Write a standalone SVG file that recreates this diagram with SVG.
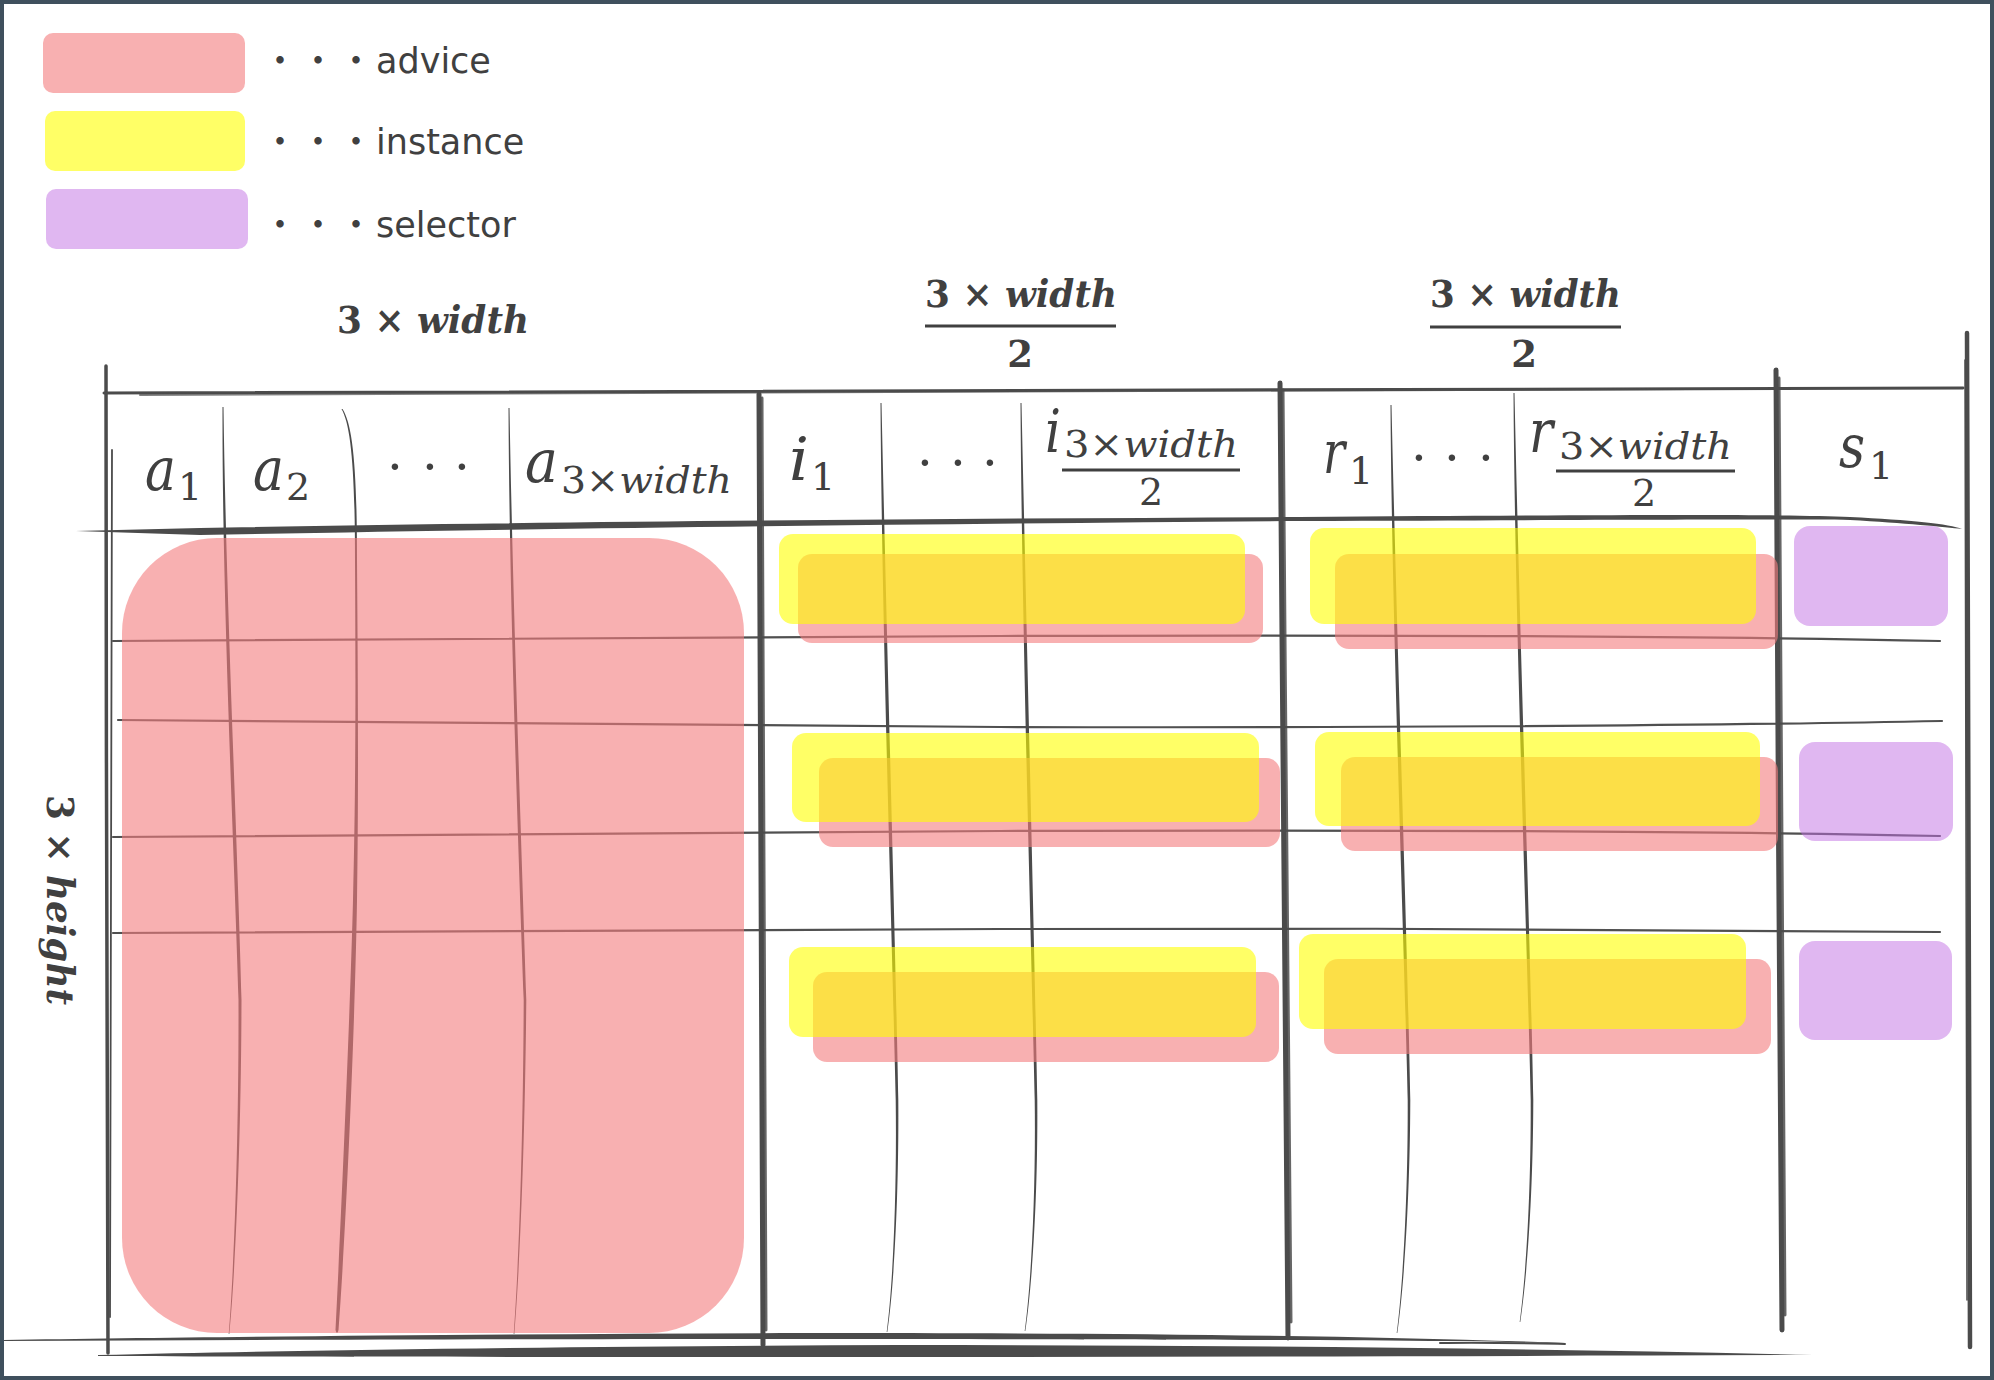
<svg xmlns="http://www.w3.org/2000/svg" width="1994" height="1380" viewBox="0 0 1994 1380">
<defs>
<style>
.ln{fill:none;stroke:#4b4b4b;stroke-linecap:round;stroke-linejoin:round}
.br{fill:#4b4b4b;stroke:none}
.rw{fill:none;stroke:#505050;stroke-width:2.2;stroke-linecap:round}
.pk{fill:#F47C7D;fill-opacity:0.6}
.yl{fill:#FFFF00;fill-opacity:0.6}
.pu{fill:#C16FE3;fill-opacity:0.5}
.lg{font-family:"DejaVu Sans","Noto Sans CJK JP",sans-serif;font-size:35px;fill:#404040}
.jd{font-family:"Noto Sans CJK JP",sans-serif;font-size:35px;fill:#404040}
.mv{font-family:"DejaVu Serif",serif;font-style:italic;font-size:60px;fill:#404040}
.sb{font-family:"DejaVu Serif",serif;font-size:38px;fill:#404040}
.dt{font-family:"DejaVu Serif",serif;font-size:50px;fill:#404040;text-anchor:middle}
.hd{font-family:"DejaVu Serif",serif;font-weight:bold;font-size:38px;fill:#404040}
.dn{font-family:"DejaVu Serif",serif;font-weight:bold;font-size:37px;fill:#404040;text-anchor:middle}
.it{font-style:italic}
.fl{stroke:#404040;stroke-width:3}
</style>
</defs>
<rect x="0" y="0" width="1994" height="1380" fill="#ffffff"/>
<rect x="2" y="2" width="1990" height="1376" fill="none" stroke="#3f505d" stroke-width="4"/>

<!-- connectors / grid -->
<g id="grid">
  <!-- outer left -->
  <path class="ln" stroke-width="3.5" d="M106,366 C106,700 107,1000 108,1353"/>
  <path class="ln" stroke-width="1.8" d="M112,450 C112,800 111,1100 110,1317"/>
  <!-- top line -->
  <path class="ln" stroke-width="3" d="M104,393 C500,391 1200,390 1963,388"/>
  <path class="ln" stroke-width="2" stroke-opacity="0.7" d="M140,395 C600,392 1100,391 1690,389"/>
  <!-- header bottom line -->
  <path class="br" d="M76,531 L200,528 C500,522 900,519 1300,517 C1600,515 1780,514 1850,517 C1910,520 1950,524 1962,529 C1945,527 1905,523 1850,520 C1780,519 1600,520 1300,521 C900,524 500,529 200,535 Z"/>
  <!-- row lines -->
  <path class="rw" d="M113,641 C400,640 700,637 1000,636 C1300,635 1700,636 1940,641"/>
  <path class="rw" d="M118,720 C400,722 700,725 1000,727 C1300,728 1700,726 1942,721"/>
  <path class="rw" d="M113,837 C400,836 700,833 1000,831 C1300,830 1700,831 1940,836"/>
  <path class="rw" d="M113,933 C400,932 700,930 1000,929 C1300,928 1700,929 1940,932"/>
  <!-- advice columns (tapered strokes) -->
  <path class="br" d="M222.5,407 C222,600 234.2,850 238.5,1000 C238.9,1150 233.3,1280 228.7,1334 L229.3,1334 C234.7,1280 241.1,1150 241.5,1000 C237.8,850 226,600 223.5,407 Z"/>
  <path class="br" d="M341.5,409 C351,425 355,470 355,560 C355.9,700 355.5,800 353,900 C350.5,1000 342,1200 335.5,1330 Q337,1336 338.5,1330 C348,1200 355.5,1000 357,900 C358.5,800 358.1,700 357,560 C357,470 353,425 342.5,409 Z"/>
  <path class="br" d="M508.5,408 C509.3,600 518.4,850 523.7,1000 C523.1,1150 518.4,1270 513.7,1334 L514.3,1334 C519.6,1270 524.9,1150 526.3,1000 C521.6,850 512.7,600 509.5,408 Z"/>
  <!-- separator a|i -->
  <path class="ln" stroke-width="5" d="M759,394 C760,600 762,900 763,1345"/>
  <path class="ln" stroke-width="3" stroke-opacity="0.85" d="M762,398 C763,700 765,1000 766,1330"/>
  <!-- instance columns -->
  <path class="br" d="M880.5,403 C881.8,620 892.4,950 895.7,1100 C897,1200 892.4,1290 886.7,1332 L887.3,1332 C893.6,1290 899,1200 898.3,1100 C895.6,950 886.2,620 881.5,403 Z"/>
  <path class="br" d="M1020.5,403 C1021.8,620 1031.4,950 1034.7,1100 C1036,1200 1030.4,1290 1024.7,1331 L1025.3,1331 C1031.6,1290 1038,1200 1037.3,1100 C1034.6,950 1026.2,620 1021.5,403 Z"/>
  <!-- separator i|r -->
  <path class="ln" stroke-width="5" d="M1280,383 C1282,700 1286,1000 1288,1338"/>
  <path class="ln" stroke-width="3" stroke-opacity="0.85" d="M1283,390 C1285,700 1289,1000 1291,1322"/>
  <!-- r columns -->
  <path class="br" d="M1390.5,405 C1391.8,620 1404.4,950 1407.7,1100 C1408,1200 1402.4,1290 1396.7,1333 L1397.3,1333 C1403.6,1290 1410,1200 1410.3,1100 C1407.6,950 1396.2,620 1391.5,405 Z"/>
  <path class="br" d="M1513.5,393 C1514.8,620 1527.4,950 1530.7,1100 C1531,1200 1525.4,1280 1519.7,1322 L1520.3,1322 C1526.6,1280 1533,1200 1533.3,1100 C1530.6,950 1519.2,620 1514.5,393 Z"/>
  <!-- separator r|s -->
  <path class="ln" stroke-width="5" d="M1776,370 C1777,700 1780,1000 1782,1330"/>
  <path class="ln" stroke-width="3" stroke-opacity="0.85" d="M1779,378 C1781,700 1783,1000 1785,1315"/>
  <!-- right edge -->
  <path class="ln" stroke-width="4.5" d="M1967,333 C1968,700 1969,1000 1970,1347"/>
  <path class="ln" stroke-width="1.5" d="M1965,360 L1967,1300"/>
  <!-- bottom brush strokes -->
  <path class="br" d="M4,1340 C200,1337 500,1334 800,1333 C1100,1333 1350,1335 1566,1343 C1540,1344 1500,1341 1450,1341 C1300,1340 1100,1339 800,1339 C500,1339 250,1340 4,1341 Z"/>
  <path class="ln" stroke-width="2" d="M1565,1344 C1520,1343 1480,1342 1440,1343"/>
  <path class="br" d="M98,1355 C300,1350 600,1346 900,1345 C1200,1345 1500,1348 1813,1355 C1500,1356 1200,1357 900,1357 C600,1357 300,1357 98,1356 Z"/>
</g>

<!-- legend -->
<g id="legend-advice">
  <rect class="pk" x="43" y="33" width="202" height="60" rx="10"/>
  <text class="jd" x="262.5 300.5 338.5" y="73">・・・</text>
  <text class="lg" x="376" y="73">advice</text>
</g>
<g id="legend-instance">
  <rect class="yl" x="45" y="111" width="200" height="60" rx="10"/>
  <text class="jd" x="262.5 300.5 338.5" y="154">・・・</text>
  <text class="lg" x="376" y="154">instance</text>
</g>
<g id="legend-selector">
  <rect class="pu" x="46" y="189" width="202" height="60" rx="10"/>
  <text class="jd" x="262.5 300.5 338.5" y="237">・・・</text>
  <text class="lg" x="376" y="237">selector</text>
</g>

<!-- dimension labels -->
<g id="label-advice-width">
  <text class="hd" x="337" y="333" textLength="192" lengthAdjust="spacingAndGlyphs">3 × <tspan class="it">width</tspan></text>
</g>
<g id="label-instance-width">
  <text class="hd" x="925" y="307" textLength="192" lengthAdjust="spacingAndGlyphs">3 × <tspan class="it">width</tspan></text>
  <line class="fl" x1="925" y1="326" x2="1116" y2="326"/>
  <text class="dn" x="1020" y="367">2</text>
</g>
<g id="label-r-width">
  <text class="hd" x="1430" y="307" textLength="191" lengthAdjust="spacingAndGlyphs">3 × <tspan class="it">width</tspan></text>
  <line class="fl" x1="1430" y1="327" x2="1621" y2="327"/>
  <text class="dn" x="1524" y="367">2</text>
</g>
<g id="label-height">
  <text class="hd" transform="translate(47,795) rotate(90)" x="0" y="0" textLength="210" lengthAdjust="spacingAndGlyphs">3 × <tspan class="it">height</tspan></text>
</g>

<!-- header cells -->
<g id="head-a1">
  <text class="mv" x="145" y="490" textLength="31" lengthAdjust="spacingAndGlyphs">a</text>
  <text class="sb" x="178" y="500">1</text>
</g>
<g id="head-a2">
  <text class="mv" x="253" y="490" textLength="31" lengthAdjust="spacingAndGlyphs">a</text>
  <text class="sb" x="286" y="500">2</text>
</g>
<g id="head-a-dots">
  <text class="dt" x="395 430 462" y="484">···</text>
</g>
<g id="head-a-last">
  <text class="mv" x="525" y="482" textLength="33" lengthAdjust="spacingAndGlyphs">a</text>
  <text class="sb" x="561" y="493" textLength="171" lengthAdjust="spacingAndGlyphs">3×<tspan class="it">width</tspan></text>
</g>
<g id="head-i1">
  <text class="mv" x="789" y="480" textLength="20" lengthAdjust="spacingAndGlyphs">i</text>
  <text class="sb" x="811" y="490">1</text>
</g>
<g id="head-i-dots">
  <text class="dt" x="925 958 990" y="480">···</text>
</g>
<g id="head-i-last">
  <text class="mv" x="1045" y="452" textLength="16" lengthAdjust="spacingAndGlyphs">i</text>
  <text class="sb" x="1064" y="457" textLength="174" lengthAdjust="spacingAndGlyphs">3×<tspan class="it">width</tspan></text>
  <line class="fl" x1="1062" y1="470" x2="1240" y2="470"/>
  <text class="sb" x="1151" y="505" text-anchor="middle">2</text>
</g>
<g id="head-r1">
  <text class="mv" x="1323" y="473" textLength="22" lengthAdjust="spacingAndGlyphs">r</text>
  <text class="sb" x="1349" y="484">1</text>
</g>
<g id="head-r-dots">
  <text class="dt" x="1419 1452 1486" y="475">···</text>
</g>
<g id="head-r-last">
  <text class="mv" x="1529" y="452" textLength="24" lengthAdjust="spacingAndGlyphs">r</text>
  <text class="sb" x="1559" y="459" textLength="173" lengthAdjust="spacingAndGlyphs">3×<tspan class="it">width</tspan></text>
  <line class="fl" x1="1556" y1="471" x2="1735" y2="471"/>
  <text class="sb" x="1644" y="506" text-anchor="middle">2</text>
</g>
<g id="head-s1">
  <text class="mv" x="1839" y="467" textLength="26" lengthAdjust="spacingAndGlyphs">s</text>
  <text class="sb" x="1869" y="479">1</text>
</g>

<!-- blocks -->
<g id="advice-block">
  <rect class="pk" x="122" y="538" width="622" height="795" rx="95"/>
</g>
<g id="row1-instance">
  <rect class="pk" x="798" y="554" width="465" height="89" rx="14"/>
  <rect class="yl" x="779" y="534" width="466" height="90" rx="14"/>
</g>
<g id="row1-r">
  <rect class="pk" x="1335" y="554" width="443" height="95" rx="14"/>
  <rect class="yl" x="1310" y="528" width="446" height="96" rx="14"/>
</g>
<g id="row1-selector">
  <rect class="pu" x="1794" y="526" width="154" height="100" rx="16"/>
</g>
<g id="row2-instance">
  <rect class="pk" x="819" y="758" width="461" height="89" rx="14"/>
  <rect class="yl" x="792" y="733" width="467" height="89" rx="14"/>
</g>
<g id="row2-r">
  <rect class="pk" x="1341" y="757" width="437" height="94" rx="14"/>
  <rect class="yl" x="1315" y="732" width="445" height="94" rx="14"/>
</g>
<g id="row2-selector">
  <rect class="pu" x="1799" y="742" width="154" height="99" rx="16"/>
</g>
<g id="row3-instance">
  <rect class="pk" x="813" y="972" width="466" height="90" rx="14"/>
  <rect class="yl" x="789" y="947" width="467" height="90" rx="14"/>
</g>
<g id="row3-r">
  <rect class="pk" x="1324" y="959" width="447" height="95" rx="14"/>
  <rect class="yl" x="1299" y="934" width="447" height="95" rx="14"/>
</g>
<g id="row3-selector">
  <rect class="pu" x="1799" y="941" width="153" height="99" rx="16"/>
</g>
</svg>
